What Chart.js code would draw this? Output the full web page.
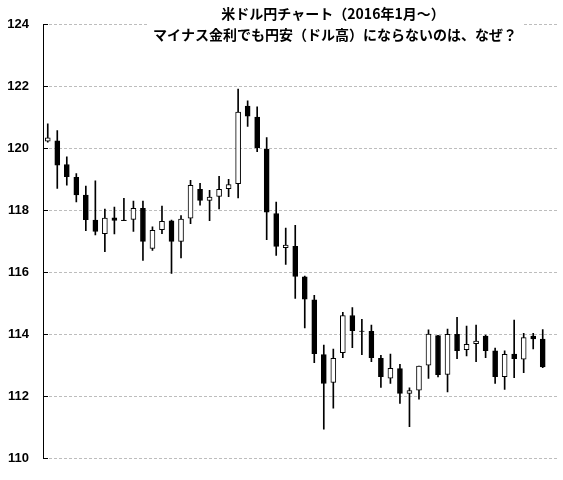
<!DOCTYPE html>
<html>
<head>
<meta charset="utf-8">
<script src="https://cdn.jsdelivr.net/npm/chart.js@4"></script>
<style>
  html, body { margin: 0; padding: 0; background: #fff; }
  #wrap { width: 563px; height: 480px; }
</style>
</head>
<body>
<div id="wrap"><canvas id="cv"></canvas></div>
<script>
const titleLines = ['米ドル円チャート（2016年1月～）', 'マイナス金利でも円安（ドル高）にならないのは、なぜ？'];

const opens = [120.22, 120.23, 119.47, 119.06, 118.48, 117.68, 117.24, 117.75, 117.68, 117.70,
    118.06, 116.76, 117.37, 117.65, 116.99, 117.74, 118.67, 118.31, 118.44, 118.69,
    118.85, 121.35, 121.00, 119.97, 117.89, 116.79, 116.83, 115.85, 115.11, 113.34,
    112.44, 113.40, 114.60, 114.10, 114.09, 113.22, 112.58, 112.89, 112.09, 112.19,
    113.00, 113.95, 112.70, 113.99, 113.50, 113.69, 113.94, 113.46, 112.63, 113.36,
    113.19, 113.94, 113.84];
const closes = [120.33, 119.45, 119.08, 118.49, 117.69, 117.31, 117.74, 117.67, 117.66, 118.06,
    116.99, 117.35, 117.64, 116.99, 117.71, 118.80, 118.31, 118.42, 118.67, 118.82,
    121.16, 121.03, 120.01, 117.93, 116.83, 116.87, 115.86, 115.13, 113.37, 112.41,
    113.22, 114.60, 114.11, 114.09, 113.24, 112.63, 112.90, 112.09, 112.18, 112.97,
    114.00, 112.69, 113.99, 113.47, 113.67, 113.78, 113.47, 112.63, 113.35, 113.21,
    113.89, 113.85, 112.94];
const highs = [120.78, 120.56, 119.72, 119.18, 118.77, 118.94, 118.03, 118.10, 118.38, 118.29,
    118.29, 117.46, 118.13, 117.68, 117.82, 118.96, 118.86, 118.64, 119.09, 118.99,
    121.90, 121.52, 121.33, 120.34, 118.26, 117.42, 117.51, 115.87, 115.25, 113.65,
    113.52, 114.70, 114.86, 114.48, 114.29, 113.32, 113.36, 113.03, 112.27, 112.97,
    114.14, 113.96, 114.16, 114.54, 114.26, 114.29, 113.97, 113.55, 113.46, 114.45,
    114.03, 114.03, 114.15];
const lows = [120.19, 118.70, 118.80, 118.26, 117.34, 117.20, 116.66, 117.23, 117.66, 117.31,
    116.38, 116.70, 117.24, 115.96, 116.46, 117.56, 118.16, 117.66, 118.04, 118.43,
    118.39, 120.70, 119.88, 117.05, 116.54, 116.25, 115.15, 114.20, 113.08, 110.94,
    111.61, 113.24, 113.56, 113.34, 113.11, 112.28, 112.41, 111.77, 111.02, 111.90,
    112.57, 112.62, 112.14, 113.21, 113.30, 113.11, 113.24, 112.41, 112.22, 112.60,
    112.76, 113.52, 112.92];

// one spare slot on the right, like the original
const labels = opens.map((_, i) => String(i + 1)).concat(['']);

const yTicks = [110, 112, 114, 116, 118, 120, 122, 124];

// short black tick marks inside the axis + title box over the top gridline
const decor = {
    id: 'decor',
    afterDraw(chart) {
        const ctx = chart.ctx;
        const y = chart.scales.y;
        ctx.save();
        ctx.strokeStyle = '#000';
        ctx.lineWidth = 1;
        yTicks.forEach(v => {
            const py = Math.round(y.getPixelForValue(v)) + 0.5;
            ctx.beginPath();
            ctx.moveTo(y.right, py);
            ctx.lineTo(y.right + 5, py);
            ctx.stroke();
        });
        ctx.fillStyle = '#fff';
        ctx.fillRect(148, 0, 374, 45);
        ctx.fillStyle = '#000';
        ctx.font = 'bold 14px "Noto Sans CJK JP"';
        ctx.textAlign = 'center';
        ctx.textBaseline = 'middle';
        ctx.fillText(titleLines[0], 333, 14);
        ctx.fillText(titleLines[1], 335, 35);
        ctx.restore();
    }
};

new Chart(document.getElementById('cv'), {
    type: 'bar',
    data: {
        labels: labels,
        datasets: [{
            label: 'body',
            data: opens.map((o, i) => [o, closes[i]]),
            backgroundColor: opens.map((o, i) => closes[i] >= o ? '#fff' : '#000'),
            borderColor: '#000',
            borderWidth: 1,
            borderSkipped: false,
            barThickness: 5,
            grouped: false,
            order: 0
        }, {
            label: 'wick',
            data: lows.map((l, i) => [l, highs[i]]),
            backgroundColor: '#000',
            borderWidth: 0,
            barThickness: 1,
            grouped: false,
            order: 1
        }]
    },
    options: {
        responsive: true,
        maintainAspectRatio: false,
        animation: false,
        layout: { padding: { top: 24, right: 6, bottom: 18, left: 0 } },
        plugins: { legend: { display: false }, tooltip: { enabled: false } },
        scales: {
            x: { display: false, offset: true },
            y: {
                min: 110,
                max: 124,
                afterFit: s => { s.width = 43; },
                afterBuildTicks: s => { s.ticks = yTicks.map(v => ({ value: v })); },
                border: { display: true, color: '#000', width: 1, dash: [3, 2] },
                grid: { color: '#bdbdbd', lineWidth: 1, drawTicks: false },
                ticks: {
                    padding: 14,
                    color: '#000',
                    font: { family: 'Liberation Sans', size: 13, weight: 'bold' }
                }
            }
        }
    },
    plugins: [decor]
});
</script>
</body>
</html>
